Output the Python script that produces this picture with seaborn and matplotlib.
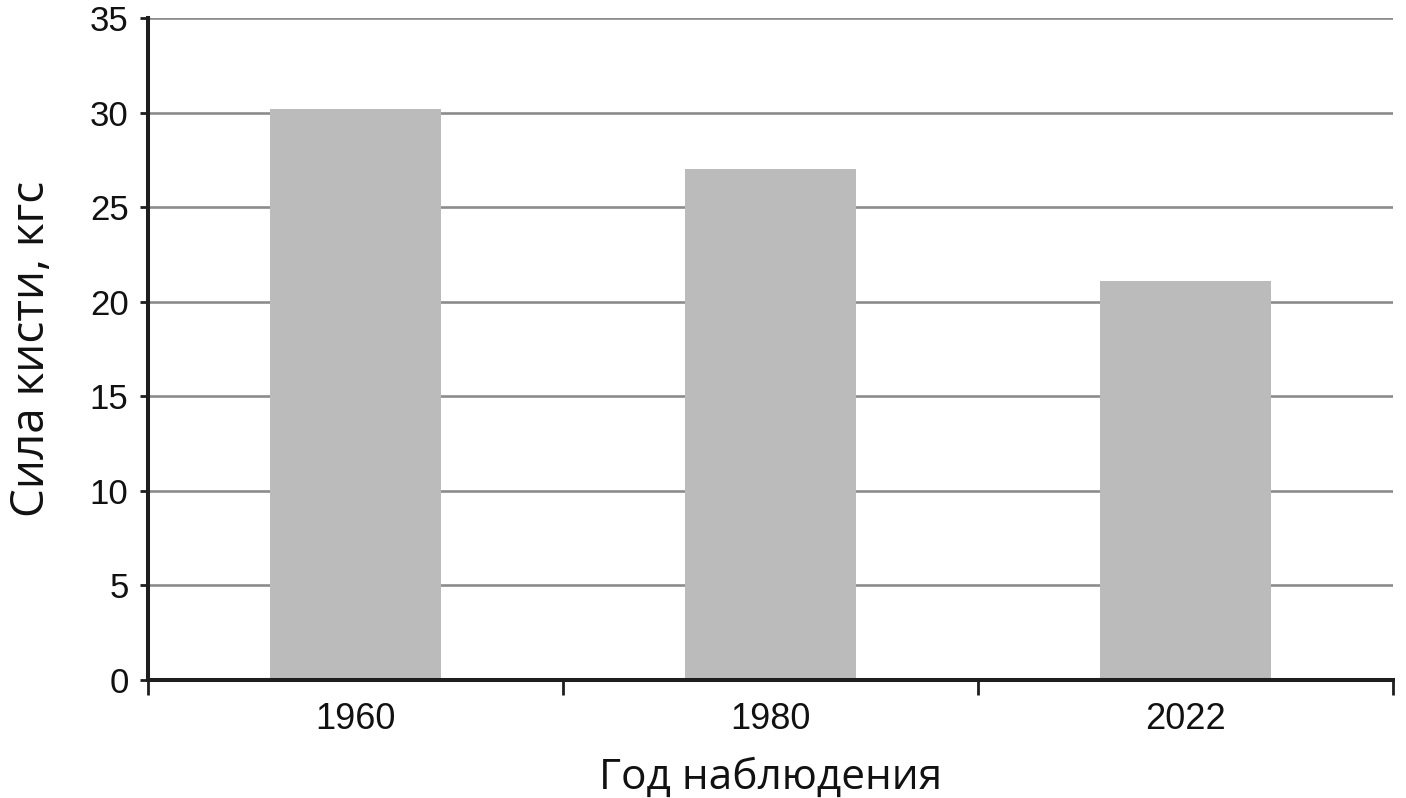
import pandas as pd
import numpy as np
import matplotlib
matplotlib.use("Agg")
import matplotlib.pyplot as plt
import seaborn as sns

# данные
years = ["1960", "1980", "2022"]
strength = [30.2, 27.0, 21.1]
y_ticks = [0, 5, 10, 15, 20, 25, 30, 35]

df = pd.DataFrame({"year": years, "strength": strength})

sns.set_style("white")
plt.rcParams['font.family'] = ['Liberation Sans', 'DejaVu Sans']

fig = plt.figure(figsize=(14.06, 7.98), dpi=100)
ax = fig.add_axes([0.1053, 0.1479, 0.8855, 0.8295])

sns.barplot(data=df, x="year", y="strength", color="#bbbbbb",
            width=0.41, saturation=1, linewidth=0, ax=ax, zorder=2)

ax.set_ylim(0, 35)
ax.set_xlim(-0.5, 2.5)
ax.set_yticks(y_ticks)
ax.yaxis.grid(True, color="#8c8c8c", linewidth=1.9, zorder=0)
ax.set_axisbelow(True)

# оси
for s in ["top", "right"]:
    ax.spines[s].set_visible(False)
for s in ["left", "bottom"]:
    ax.spines[s].set_color("#1e1e1e")
    ax.spines[s].set_linewidth(2.9)
    ax.spines[s].set_zorder(3)

ax.tick_params(axis="y", length=6, width=2, color="#1e1e1e",
               labelsize=25, pad=8, left=True, labelcolor="#111111")
ax.tick_params(axis="x", which="major", length=0, labelsize=26, pad=16,
               labelcolor="#111111")
ax.set_xticks([-0.5, 0.5, 1.5, 2.5], minor=True)
ax.tick_params(axis="x", which="minor", length=11, width=2,
               color="#1e1e1e", bottom=True)

ax.set_xlabel("Год наблюдения", fontsize=30.5, family=["Open Sans", "DejaVu Sans"],
              labelpad=14, color="#111111")
ax.set_ylabel("Сила кисти, кгс", fontsize=33, family=["Open Sans", "DejaVu Sans"],
              labelpad=25, color="#111111")

plt.savefig("out.png", dpi=100)
